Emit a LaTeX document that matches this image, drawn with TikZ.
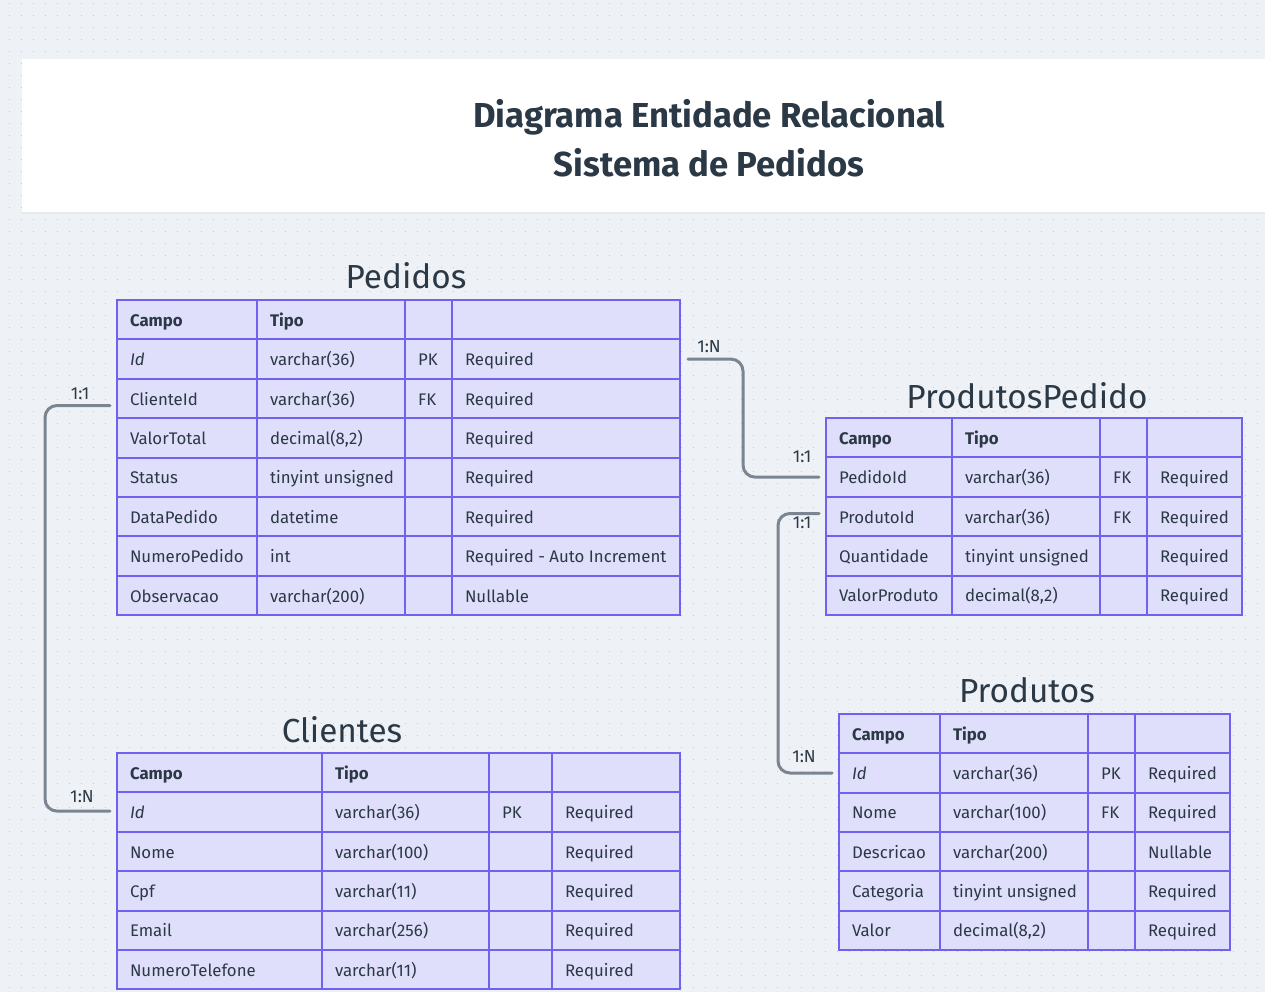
\documentclass[tikz,border=0pt]{standalone}
\usepackage{fontspec}
\setmainfont{Fira Sans}
\usetikzlibrary{calc,shadows}
\definecolor{bgc}{RGB}{238,242,246}
\definecolor{dotc}{RGB}{196,204,214}
\definecolor{cellf}{RGB}{224,223,251}
\definecolor{cellb}{RGB}{112,98,240}
\definecolor{txtc}{RGB}{43,56,69}
\definecolor{connc}{RGB}{122,133,145}
\tikzset{
  cellbox/.style={draw=cellb, fill=cellf, line width=1.5pt, rectangle, outer sep=0pt,
    inner xsep=9.75pt, inner ysep=0pt, minimum height=29.55pt,
    text height=10.5pt, text depth=0.5pt, text=txtc, font=\fontsize{12.6}{15}\selectfont},
  tabtitle/.style={text=txtc, font=\fontsize{25}{30}\selectfont, anchor=base, inner sep=0pt},
  titletext/.style={text=txtc, font=\fontsize{26}{31}\selectfont\bfseries, anchor=base, inner sep=0pt},
  conn/.style={draw=connc, line width=2.25pt, rounded corners=9pt, line cap=round},
  lbl/.style={text=txtc, font=\fontsize{13}{15}\selectfont, inner sep=0pt},
  dotline/.style={draw=dotc, line width=1pt, dash pattern=on 1pt off 8pt}
}
\newcommand\cellnode[5]{%
  \pgfmathsetmacro\cellw{(#3-#2)*0.75}%
  \pgfmathsetmacro\celltw{(#3-#2-26)*0.75}%
  \node[cellbox, minimum width=\cellw pt, anchor=north west] (#1) at (#2,#4) {\makebox[\celltw pt][l]{#5}};%
}
\newcommand\erow[6]{%
  \cellnode{#1a}{\tcA}{\tcB}{#2}{#3}%
  \cellnode{#1b}{\tcB}{\tcC}{#2}{#4}%
  \cellnode{#1c}{\tcC}{\tcD}{#2}{#5}%
  \cellnode{#1d}{\tcD}{\tcE}{#2}{#6}%
}
\begin{document}
\begin{tikzpicture}[x=0.75pt,y=-0.75pt]
\useasboundingbox (0,0) rectangle (1265,992);
\fill[bgc] (0,0) rectangle (1265,992);
\foreach \j in {0,...,82} \draw[dotline] (8.65,3.3+12*\j) -- (1265,3.3+12*\j);
% title card
\path[fill=white, drop shadow={shadow xshift=0pt, shadow yshift=-1.5pt, opacity=0.08}] (22,59) rectangle (1275,212);
\node[titletext] (title1) at (709,127) {Diagrama Entidade Relacional};
\node[titletext] (title2) at (709,176) {Sistema de Pedidos};

% Pedidos
\node[tabtitle] (tPed) at (406,288) {Pedidos};
\def\tcA{117}\def\tcB{257}\def\tcC{405}\def\tcD{452}\def\tcE{680}
\erow{p0}{300}{\textbf{Campo}}{\textbf{Tipo}}{}{}
\erow{p1}{339.4}{\textit{Id}}{varchar(36)}{PK}{Required}
\erow{p2}{378.8}{ClienteId}{varchar(36)}{FK}{Required}
\erow{p3}{418.2}{ValorTotal}{decimal(8,2)}{}{Required}
\erow{p4}{457.6}{Status}{tinyint unsigned}{}{Required}
\erow{p5}{497}{DataPedido}{datetime}{}{Required}
\erow{p6}{536.4}{NumeroPedido}{int}{}{Required - Auto Increment}
\erow{p7}{575.8}{Observacao}{varchar(200)}{}{Nullable}

% Clientes
\node[tabtitle] (tCli) at (342,742) {Clientes};
\def\tcA{117}\def\tcB{322}\def\tcC{489}\def\tcD{552}\def\tcE{680}
\erow{c0}{753}{\textbf{Campo}}{\textbf{Tipo}}{}{}
\erow{c1}{792.4}{\textit{Id}}{varchar(36)}{PK}{Required}
\erow{c2}{831.8}{Nome}{varchar(100)}{}{Required}
\erow{c3}{871.2}{Cpf}{varchar(11)}{}{Required}
\erow{c4}{910.6}{Email}{varchar(256)}{}{Required}
\erow{c5}{950}{NumeroTelefone}{varchar(11)}{}{Required}

% ProdutosPedido
\node[tabtitle] (tPP) at (1027,408) {ProdutosPedido};
\def\tcA{826}\def\tcB{952}\def\tcC{1100}\def\tcD{1147}\def\tcE{1242}
\erow{q0}{418}{\textbf{Campo}}{\textbf{Tipo}}{}{}
\erow{q1}{457.4}{PedidoId}{varchar(36)}{FK}{Required}
\erow{q2}{496.8}{ProdutoId}{varchar(36)}{FK}{Required}
\erow{q3}{536.2}{Quantidade}{tinyint unsigned}{}{Required}
\erow{q4}{575.6}{ValorProduto}{decimal(8,2)}{}{Required}

% Produtos
\node[tabtitle] (tPr) at (1027,702) {Produtos};
\def\tcA{839}\def\tcB{940}\def\tcC{1088}\def\tcD{1135}\def\tcE{1230}
\erow{r0}{714}{\textbf{Campo}}{\textbf{Tipo}}{}{}
\erow{r1}{753.3}{\textit{Id}}{varchar(36)}{PK}{Required}
\erow{r2}{792.6}{Nome}{varchar(100)}{FK}{Required}
\erow{r3}{831.9}{Descricao}{varchar(200)}{}{Nullable}
\erow{r4}{871.2}{Categoria}{tinyint unsigned}{}{Required}
\erow{r5}{910.5}{Valor}{decimal(8,2)}{}{Required}

% connectors
\draw[conn] ($(p2a.west)+(-7,7)$) -- ++(-65,0) |- ($(c1a.west)+(-7,-1)$);
\draw[conn] ($(p1d.east)+(8,0)$) -- ++(55,0) |- ($(q1a.west)+(-7,0)$);
\draw[conn] ($(q2a.west)+(-7,-3)$) -- ++(-41,0) |- ($(r1a.west)+(-7,0)$);

\node[lbl] (l1) at (80,394) {1:1};
\node[lbl] (l2) at (82,797) {1:N};
\node[lbl] (l3) at (709,347) {1:N};
\node[lbl] (l4) at (802,457) {1:1};
\node[lbl] (l5) at (802,523) {1:1};
\node[lbl] (l6) at (804,757) {1:N};
\end{tikzpicture}
\end{document}
